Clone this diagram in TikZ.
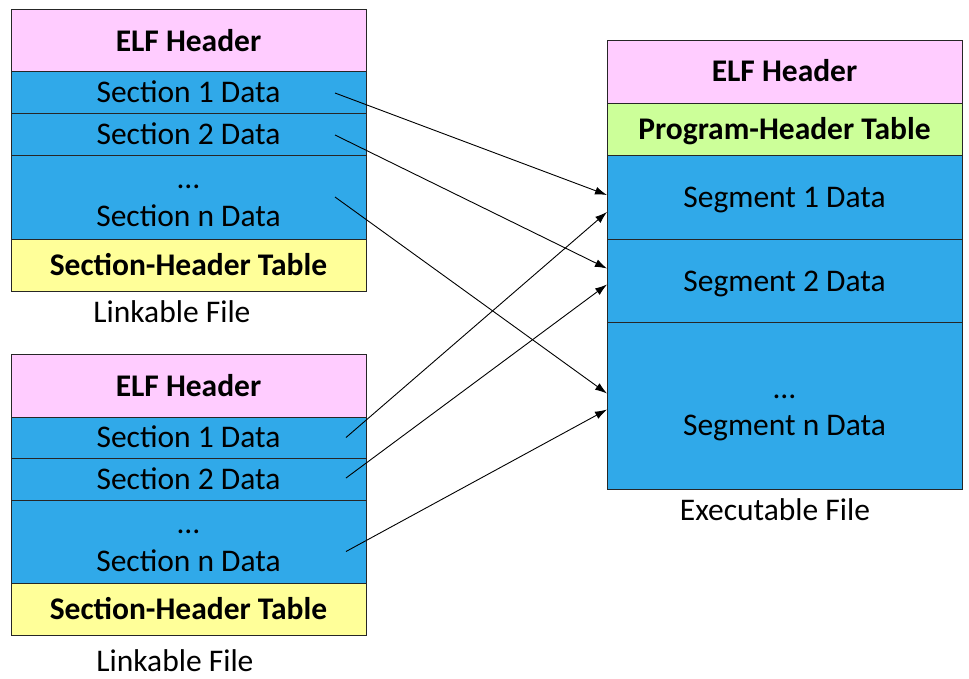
\documentclass[tikz,border=0pt]{standalone}
\usepackage{fontspec}
\setmainfont{Carlito}
\usetikzlibrary{arrows.meta,calc}
\definecolor{hdrpink}{HTML}{FFCCFF}
\definecolor{secblue}{HTML}{30A9E9}
\definecolor{shtyellow}{HTML}{FFFF99}
\definecolor{phtgreen}{HTML}{CCFF99}
\tikzset{
  blk/.style={draw=black!85, line width=0.9pt, anchor=north west, minimum width=355pt, inner sep=0pt, outer sep=0pt},
  hdr/.style={blk, fill=hdrpink},
  sec/.style={blk, fill=secblue},
  sht/.style={blk, fill=shtyellow},
  pht/.style={blk, fill=phtgreen},
  txt/.style={anchor=base, inner sep=0pt, font=\fontsize{31.5}{38}\selectfont},
  btxt/.style={txt, font=\fontsize{31.5}{38}\selectfont\bfseries},
  conn/.style={line width=0.9pt, -{Latex[length=12pt,width=8pt]}}
}
\begin{document}
\begin{tikzpicture}[x=1pt,y=-1pt]
\useasboundingbox (0,0) rectangle (969,678);
% top linkable file
\node[hdr, minimum height=62pt] (ha) at (11,9) {};
\node[sec, minimum height=42pt] (s1a) at (11,71) {};
\node[sec, minimum height=42pt] (s2a) at (11,113) {};
\node[sec, minimum height=84pt] (sna) at (11,155) {};
\node[sht, minimum height=52pt] (ta) at (11,239) {};
\node[btxt] (ha-t) at ($(ha.center)+(0,11)$) {ELF Header};
\node[txt] (s1a-t) at ($(s1a.center)+(0,10)$) {Section 1 Data};
\node[txt] (s2a-t) at ($(s2a.center)+(0,10)$) {Section 2 Data};
\node[txt] (sna-d) at ($(sna.center)+(0,-9)$) {…};
\node[txt] (sna-t) at ($(sna.center)+(0,29)$) {Section n Data};
\node[btxt] (ta-t) at ($(ta.center)+(0,10)$) {Section-Header Table};
\node[txt] (la) at (172,322) {Linkable File};
% bottom linkable file
\node[hdr, minimum height=63pt] (hb) at (11,354) {};
\node[sec, minimum height=41pt] (s1b) at (11,417) {};
\node[sec, minimum height=42pt] (s2b) at (11,458) {};
\node[sec, minimum height=83pt] (snb) at (11,500) {};
\node[sht, minimum height=52pt] (tb) at (11,583) {};
\node[btxt] (hb-t) at ($(hb.center)+(0,10.5)$) {ELF Header};
\node[txt] (s1b-t) at ($(s1b.center)+(0,10)$) {Section 1 Data};
\node[txt] (s2b-t) at ($(s2b.center)+(0,10)$) {Section 2 Data};
\node[txt] (snb-d) at ($(snb.center)+(0,-8.5)$) {…};
\node[txt] (snb-t) at ($(snb.center)+(0,29.5)$) {Section n Data};
\node[btxt] (tb-t) at ($(tb.center)+(0,10)$) {Section-Header Table};
\node[txt] (lb) at (175,671) {Linkable File};
% executable file
\node[hdr, minimum height=63pt] (he) at (607,40) {};
\node[pht, minimum height=52pt] (pe) at (607,103) {};
\node[sec, minimum height=84pt] (g1) at (607,155) {};
\node[sec, minimum height=83pt] (g2) at (607,239) {};
\node[sec, minimum height=167pt] (gn) at (607,322) {};
\node[btxt] (he-t) at ($(he.center)+(0,9.5)$) {ELF Header};
\node[btxt] (pe-t) at ($(pe.center)+(0,10)$) {Program-Header Table};
\node[txt] (g1-t) at ($(g1.center)+(0,10)$) {Segment 1 Data};
\node[txt] (g2-t) at ($(g2.center)+(0,10.5)$) {Segment 2 Data};
\node[txt] (gn-d) at ($(gn.center)+(0,-7.5)$) {…};
\node[txt] (gn-t) at ($(gn.center)+(0,29.5)$) {Segment n Data};
\node[txt] (le) at (775,520) {Executable File};
% connectors
\draw[conn] ($(s1a.east)+(-31,1)$) -- ($(g1.west)+(0,-2)$);
\draw[conn] ($(s2a.east)+(-31,1)$) -- ($(g2.west)+(0,-12)$);
\draw[conn] ($(sna.east)+(-31,0)$) -- ($(gn.west)+(0,-12)$);
\draw[conn] ($(s1b.east)+(-20,0)$) -- ($(g1.west)+(0,15)$);
\draw[conn] ($(s2b.east)+(-20,-1)$) -- ($(g2.west)+(0,4)$);
\draw[conn] ($(snb.east)+(-20,10)$) -- ($(gn.west)+(0,4)$);
\end{tikzpicture}
\end{document}
